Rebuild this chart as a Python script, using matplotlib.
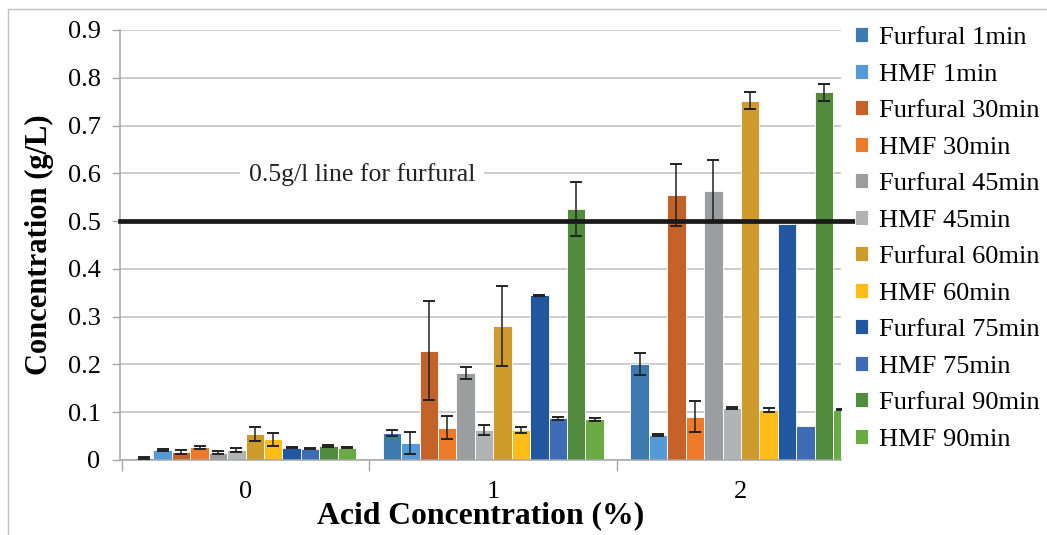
import numpy as np
import matplotlib.pyplot as plt
from matplotlib.patches import Rectangle
from matplotlib.ticker import FixedLocator

plt.rcParams['font.family'] = ['Liberation Serif', 'DejaVu Serif']

# acid concentration groups (%)
acid = ['0', '1', '2']

series = ['Furfural 1min', 'HMF 1min', 'Furfural 30min', 'HMF 30min',
          'Furfural 45min', 'HMF 45min', 'Furfural 60min', 'HMF 60min',
          'Furfural 75min', 'HMF 75min', 'Furfural 90min', 'HMF 90min']

colors = ['#3D7AB0', '#549AD6', '#C4622A', '#EC7A2A', '#9C9D9F', '#B2B3B4',
          '#CF9B2D', '#FDBD16', '#22569E', '#3D6BB5', '#538B3E', '#6AAB45']

# mean concentrations (g/L) at 0, 1, 2 % acid
fur_1 = [0.005, 0.057, 0.201]
hmf_1 = [0.021, 0.036, 0.053]
fur_30 = [0.017, 0.229, 0.555]
hmf_30 = [0.027, 0.068, 0.091]
fur_45 = [0.015, 0.182, 0.563]
hmf_45 = [0.021, 0.063, 0.109]
fur_60 = [0.055, 0.280, 0.752]
hmf_60 = [0.043, 0.063, 0.105]
fur_75 = [0.026, 0.345, 0.495]
hmf_75 = [0.024, 0.087, 0.072]
fur_90 = [0.029, 0.525, 0.770]
hmf_90 = [0.026, 0.085, 0.105]

# standard deviations
fur_1_sd = [0.002, 0.006, 0.023]
hmf_1_sd = [0.002, 0.023, 0.002]
fur_30_sd = [0.004, 0.104, 0.065]
hmf_30_sd = [0.003, 0.025, 0.032]
fur_45_sd = [0.003, 0.012, 0.065]
hmf_45_sd = [0.005, 0.010, 0.002]
fur_60_sd = [0.015, 0.084, 0.018]
hmf_60_sd = [0.013, 0.007, 0.004]
fur_75_sd = [0.001, 0.001, 0.0]
hmf_75_sd = [0.002, 0.003, 0.0]
fur_90_sd = [0.002, 0.057, 0.018]
hmf_90_sd = [0.001, 0.003, 0.001]

means = [fur_1, hmf_1, fur_30, hmf_30, fur_45, hmf_45,
         fur_60, hmf_60, fur_75, hmf_75, fur_90, hmf_90]
sds = [fur_1_sd, hmf_1_sd, fur_30_sd, hmf_30_sd, fur_45_sd, hmf_45_sd,
       fur_60_sd, hmf_60_sd, fur_75_sd, hmf_75_sd, fur_90_sd, hmf_90_sd]

LIMIT = 0.5

fig = plt.figure(figsize=(10.47, 5.35), dpi=100)
ax = fig.add_axes([120 / 1047, 75 / 535, 721 / 1047, 430 / 535])

x = np.arange(len(acid))
w = 0.0744
for i, (name, m, s, c) in enumerate(zip(series, means, sds, colors)):
    xi = x + (i - 5.5) * w
    ax.bar(xi, m, width=w, color=c, edgecolor='white', linewidth=0.6,
           label=name, zorder=2)
    s = np.array(s)
    keep = s > 0
    ax.errorbar(xi[keep], np.array(m)[keep], yerr=s[keep], fmt='none',
                ecolor='#222222', elinewidth=1.1, capsize=4.5, capthick=1.4,
                zorder=3)

ax.axhline(LIMIT, xmin=0, xmax=1.017, color='#1a1a1a', linewidth=3.4,
           zorder=4, clip_on=False)
ax.text(0.469, 0.597, '0.5g/l line for furfural', fontsize=18.5,
        ha='center', va='center', color='#222222', zorder=3,
        bbox=dict(boxstyle='square,pad=0.35', facecolor='white',
                  edgecolor='none'))

ax.set_xlim(-0.507, 2.404)
ax.set_ylim(0, 0.9)
ax.set_yticks(np.arange(0, 0.91, 0.1))
ax.set_yticklabels(['0'] + [f'{v:.1f}' for v in np.arange(0.1, 0.91, 0.1)])
ax.set_xticks(x)
ax.set_xticklabels(acid)
ax.xaxis.set_minor_locator(FixedLocator([-0.5, 0.5, 1.5]))
ax.tick_params(axis='x', which='major', length=0, labelsize=19, pad=15)
ax.tick_params(axis='x', which='minor', length=8, color='#A6A6A6', width=1)
ax.tick_params(axis='y', length=6, color='#A6A6A6', width=1, labelsize=19,
               pad=8)

ax.grid(axis='y', color='#BFBFBF', linewidth=1.1, zorder=0)
ax.set_axisbelow(True)
for side in ['top', 'right']:
    ax.spines[side].set_visible(False)
for side in ['left', 'bottom']:
    ax.spines[side].set_color('#A6A6A6')
    ax.spines[side].set_linewidth(1.1)

ax.set_ylabel('Concentration (g/L)', fontsize=22, fontweight='bold',
              labelpad=10)
ax.set_xlabel('Acid Concentration (%)', fontsize=22.8, fontweight='bold',
              labelpad=-1)

fig.legend(loc='upper left', bbox_to_anchor=(855 / 1047, 1 - 27 / 535),
           frameon=False, fontsize=19, handlelength=0.5, handleheight=0.5,
           handletextpad=0.4, labelspacing=0.55, borderpad=0, borderaxespad=0)

# outer frame of the figure
fig.patches.append(Rectangle((8 / 1047, -0.02), 1.1, 1 - 9 / 535 + 0.02,
                             transform=fig.transFigure, fill=False,
                             edgecolor='#BFBFBF', linewidth=1))

fig.savefig('out.png', dpi=100)
